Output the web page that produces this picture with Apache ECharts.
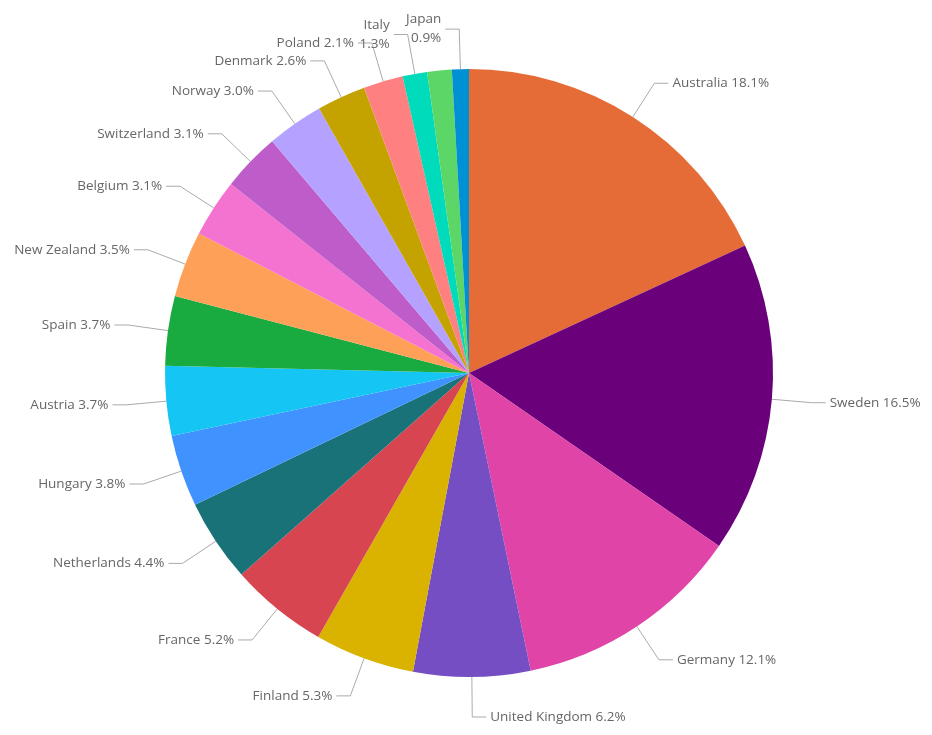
<!DOCTYPE html>
<html>
<head>
    <meta charset="utf-8">
    <title>Pie</title>
    <script src="https://cdn.jsdelivr.net/npm/echarts@6/dist/echarts.min.js"></script>
    <style>
        html, body { margin: 0; padding: 0; background: #fff; }
        #main { width: 932px; height: 735px; }
    </style>
</head>
<body>
    <div id="main"></div>
    <script type="text/javascript">
        // slices clockwise from 12 o'clock
        var countries = ['Australia', 'Sweden', 'Germany', 'United Kingdom', 'Finland', 'France',
            'Netherlands', 'Hungary', 'Austria', 'Spain', 'New Zealand', 'Belgium', 'Switzerland',
            'Norway', 'Denmark', 'Poland', 'Italy', '', 'Japan'];
        var shares = [18.1, 16.5, 12.1, 6.2, 5.3, 5.2, 4.4, 3.8, 3.7, 3.7, 3.5, 3.1, 3.1,
            3.0, 2.6, 2.1, 1.3, 1.3, 0.9];
        var colors = ['#E66C37', '#6B007B', '#E044A7', '#744EC2', '#D9B300', '#D64550',
            '#197278', '#4092FF', '#15C6F4', '#1AAB40', '#FFA058', '#F472D0', '#BE5DC9',
            '#B5A1FF', '#C4A200', '#FF8080', '#00DBBC', '#5BD667', '#0091D5'];
        var wrapped = ['Italy', 'Japan'];

        var pieData = [];
        for (var i = 0; i < countries.length; i++) {
            var item = { name: countries[i], value: shares[i], itemStyle: { color: colors[i] } };
            if (countries[i] === '') {
                item.label = { show: false };
                item.labelLine = { show: false };
            }
            pieData.push(item);
        }

        var myChart = echarts.init(document.getElementById('main'));
        myChart.setOption({
            animation: false,
            series: [{
                type: 'pie',
                center: [469, 373],
                radius: 304,
                startAngle: 90,
                clockwise: true,
                avoidLabelOverlap: false,
                labelLayout: { hideOverlap: false },
                data: pieData,
                itemStyle: { borderWidth: 0 },
                label: {
                    color: '#666666',
                    fontFamily: 'Open Sans',
                    fontSize: 13.5,
                    lineHeight: 19,
                    padding: [6, 0, 0, 0],
                    distanceToLabelLine: 4,
                    formatter: function (p) {
                        if (wrapped.indexOf(p.name) >= 0) return p.name + '\n' + p.value.toFixed(1) + '%';
                        return p.name + ' ' + p.value.toFixed(1) + '%';
                    }
                },
                labelLine: {
                    length: 40,
                    length2: 14,
                    lineStyle: { color: '#aaaaaa', width: 1 }
                }
            }]
        });
    </script>
</body>
</html>
